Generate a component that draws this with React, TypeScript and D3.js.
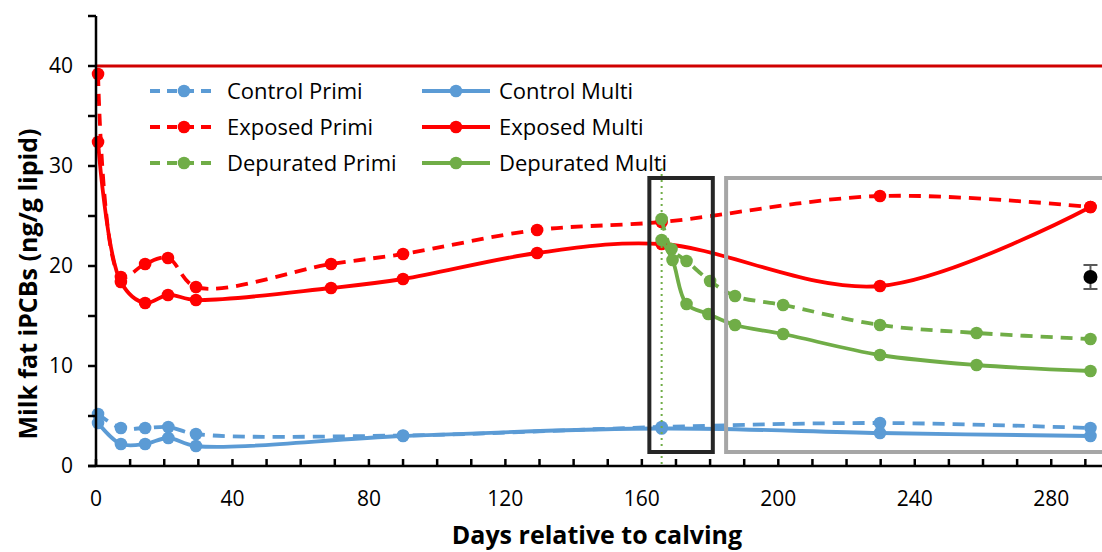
import React from 'react';
import * as d3 from 'd3';

// days relative to calving and iPCB values
const controlDays = [0.6, 7.3, 14.4, 21.2, 29.3, 90, 165.8, 229.8, 291.5];
const controlPrimi = [5.2, 3.8, 3.8, 3.9, 3.2, 3.05, 3.9, 4.3, 3.8];
const controlMulti = [4.3, 2.2, 2.2, 2.8, 2.0, 3.0, 3.75, 3.3, 3.0];

const exposedDays = [0.6, 7.3, 14.4, 21.1, 29.3, 68.9, 90, 129.3, 165.8, 229.8, 291.5];
const exposedPrimi = [39.2, 18.9, 20.2, 20.8, 17.9, 20.2, 21.2, 23.6, 24.4, 27.0, 25.9];
const exposedMulti = [32.4, 18.4, 16.3, 17.1, 16.6, 17.8, 18.7, 21.3, 22.2, 18.0, 25.9];

const depPrimiDays = [165.8, 168.7, 173.1, 180, 187.3, 201.4, 229.8, 258.1, 291.5];
const depPrimi = [24.7, 21.7, 20.5, 18.5, 17.0, 16.1, 14.1, 13.3, 12.7];
const depMultiDays = [165.8, 169, 173.1, 179.5, 187.3, 201.4, 229.8, 258.1, 291.5];
const depMulti = [22.6, 20.6, 16.2, 15.2, 14.1, 13.2, 11.1, 10.1, 9.5];

// reference point with error bar
const refDay = 291.5;
const refMean = 18.9;
const refErr = 1.2;

const limitValue = 40;
const depurationStart = 165.8;

// boxes: [day from, day to, value top, value bottom]
const blackBox = [162.2, 180.8, 28.8, 1.4];
const greyBox = [184.7, 300, 28.8, 1.4];

const xTickLabels = [0, 40, 80, 120, 160, 200, 240, 280];
const yTickLabels = [0, 10, 20, 30, 40];

const BLUE = '#5B9BD5';
const RED = '#FF0000';
const GREEN = '#70AD47';

const series = [
  { name: 'Control Primi', days: controlDays, values: controlPrimi, color: BLUE, dashed: true },
  { name: 'Control Multi', days: controlDays, values: controlMulti, color: BLUE, dashed: false },
  { name: 'Exposed Primi', days: exposedDays, values: exposedPrimi, color: RED, dashed: true },
  { name: 'Exposed Multi', days: exposedDays, values: exposedMulti, color: RED, dashed: false },
  { name: 'Depurated Primi', days: depPrimiDays, values: depPrimi, color: GREEN, dashed: true },
  { name: 'Depurated Multi', days: depMultiDays, values: depMulti, color: GREEN, dashed: false },
];

const FONT = "'Open Sans', sans-serif";

export default function App() {
  const x = d3.scaleLinear().domain([0, 294]).range([96, 1099]);
  const y = d3.scaleLinear().domain([0, 45]).range([466, 16]);

  const path = (days: number[], vals: number[]) =>
    d3.line<number>()
      .x((_, i) => x(days[i]))
      .y(d => y(d))
      .curve(d3.curveCatmullRom.alpha(0.5))(vals) || '';

  const xMinor = d3.range(0, 291, 10);
  const yMinor = d3.range(0, 46, 5);

  return (
    <svg width={1102} height={552} style={{ position: 'absolute', left: 0, top: 0, background: '#fff' }}>
      {/* limit line */}
      <line x1={x(0)} x2={1102} y1={y(limitValue)} y2={y(limitValue)} stroke="#D00000" strokeWidth={3} />

      {/* series */}
      {series.map(s => (
        <g key={s.name}>
          <path d={path(s.days, s.values)} fill="none" stroke={s.color} strokeWidth={3.8}
            strokeDasharray={s.dashed ? '12,8' : undefined} />
          {s.values.map((v, i) => (
            <circle key={i} cx={x(s.days[i])} cy={y(v)} r={6.3} fill={s.color} />
          ))}
        </g>
      ))}

      {/* start of depuration */}
      <line x1={x(depurationStart)} x2={x(depurationStart)} y1={y(29.8)} y2={y(0)}
        stroke={GREEN} strokeWidth={2} strokeDasharray="2,4" />

      {/* highlight boxes */}
      <rect x={x(blackBox[0])} y={y(blackBox[2])} width={x(blackBox[1]) - x(blackBox[0])}
        height={y(blackBox[3]) - y(blackBox[2])} fill="none" stroke="#262626" strokeWidth={4} />
      <rect x={x(greyBox[0])} y={y(greyBox[2])} width={x(greyBox[1]) - x(greyBox[0])}
        height={y(greyBox[3]) - y(greyBox[2])} fill="none" stroke="#A6A6A6" strokeWidth={4} />

      {/* reference point */}
      <g stroke="#595959" strokeWidth={2}>
        <line x1={x(refDay)} x2={x(refDay)} y1={y(refMean + refErr)} y2={y(refMean - refErr)} />
        <line x1={x(refDay) - 7} x2={x(refDay) + 7} y1={y(refMean + refErr)} y2={y(refMean + refErr)} />
        <line x1={x(refDay) - 7} x2={x(refDay) + 7} y1={y(refMean - refErr)} y2={y(refMean - refErr)} />
      </g>
      <circle cx={x(refDay)} cy={y(refMean)} r={7} fill="#000" />

      {/* axes */}
      <g stroke="#000" strokeWidth={2.5}>
        <line x1={x(0)} x2={x(0)} y1={y(45)} y2={y(0)} />
        <line x1={x(0) - 8} x2={1102} y1={y(0)} y2={y(0)} />
        {yMinor.map(t => (
          <line key={'y' + t} x1={x(0) - 8} x2={x(0)} y1={y(t)} y2={y(t)} />
        ))}
        {xMinor.map(t => (
          <line key={'x' + t} x1={x(t)} x2={x(t)} y1={y(0)} y2={y(0) - 7} />
        ))}
      </g>
      <g fontFamily={FONT} fontSize={21} fill="#000">
        {yTickLabels.map(t => (
          <text key={'yl' + t} x={x(0) - 23} y={y(t)} dy="0.35em" textAnchor="end">{t}</text>
        ))}
        {xTickLabels.map(t => (
          <text key={'xl' + t} x={x(t)} y={y(0) + 40} textAnchor="middle">{t}</text>
        ))}
      </g>
      <text x={597} y={544} textAnchor="middle" fontFamily={FONT} fontSize={25} fontWeight="bold">
        Days relative to calving
      </text>
      <text transform="translate(37,284) rotate(-90)" textAnchor="middle" fontFamily={FONT}
        fontSize={25} fontWeight="bold">
        Milk fat iPCBs (ng/g lipid)
      </text>

      {/* legend */}
      <g fontFamily={FONT} fontSize={22}>
        {series.map((s, i) => {
          const col = i % 2;
          const row = Math.floor(i / 2);
          const lx = col === 0 ? 150 : 422;
          const ly = 91 + row * 36;
          return (
            <g key={'lg' + s.name}>
              <line x1={lx} x2={lx + 68} y1={ly} y2={ly} stroke={s.color} strokeWidth={3.8}
                strokeDasharray={s.dashed ? '10,7' : undefined} />
              <circle cx={lx + 34} cy={ly} r={6.3} fill={s.color} />
              <text x={lx + 77} y={ly} dy="0.35em">{s.name}</text>
            </g>
          );
        })}
      </g>
    </svg>
  );
}
